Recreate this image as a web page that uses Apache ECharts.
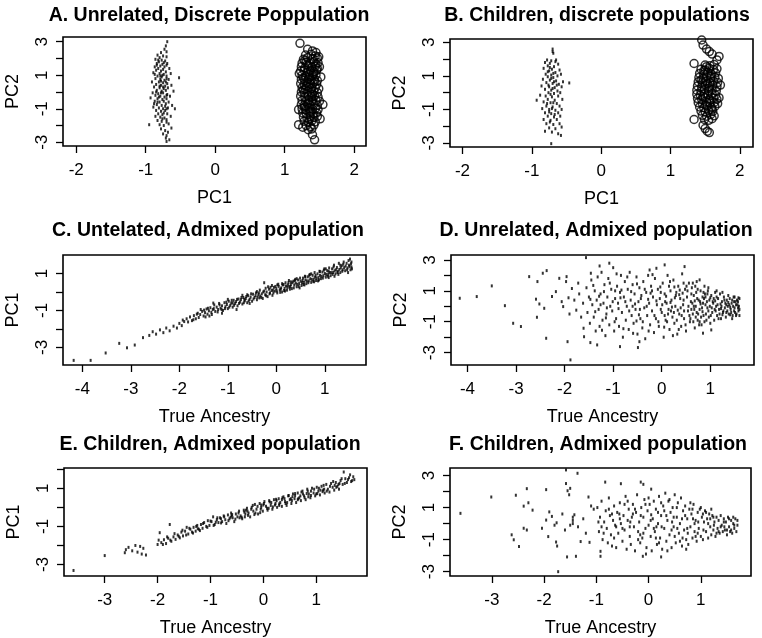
<!DOCTYPE html>
<html>
<head>
<meta charset="utf-8">
<script src="https://cdn.jsdelivr.net/npm/echarts@6/dist/echarts.min.js"></script>
<style>
  html, body { margin: 0; padding: 0; background: #fff; }
  #chart { width: 762px; height: 638px; }
</style>
</head>
<body>
<div id="chart"></div>
<script>
// ---- Panel titles and axis names ----
const panelTitles = [
  'A. Unrelated, Discrete Poppulation',
  'B. Children, discrete populations',
  'C. Untelated, Admixed population',
  'D. Unrelated, Admixed population',
  'E. Children, Admixed population',
  'F. Children, Admixed population'
];
const xNames = ['PC1', 'PC1', 'True Ancestry', 'True Ancestry', 'True Ancestry', 'True Ancestry'];
const yNames = ['PC2', 'PC2', 'PC1', 'PC2', 'PC1', 'PC2'];

// ---- Tick positions and labelled ticks ----
const xTicks = [
  [-2, -1, 0, 1, 2],
  [-2, -1, 0, 1, 2],
  [-4, -3, -2, -1, 0, 1],
  [-4, -3, -2, -1, 0, 1],
  [-3, -2, -1, 0, 1],
  [-3, -2, -1, 0, 1]
];
const yTicks = [
  [-3, -2, -1, 0, 1, 2, 3],
  [-3, -2, -1, 0, 1, 2, 3],
  [-3, -2, -1, 0, 1],
  [-3, -2, -1, 0, 1, 2, 3],
  [-3, -2, -1, 0, 1, 2],
  [-3, -2, -1, 0, 1, 2, 3]
];
const yTickLabels = [
  [-3, -1, 1, 3],
  [-3, -1, 1, 3],
  [-3, -1, 1],
  [-3, -1, 1, 3],
  [-3, -1, 1],
  [-3, -1, 1, 3]
];

// ---- A: unrelated individuals, two discrete populations (PC1 vs PC2) ----
const unrelatedPop1 = [
  [-0.69,3.0],[-0.71,2.75],[-0.73,2.55],[-0.78,2.35],[-0.83,2.2],[-0.75,2.15],[-0.80,2.05],[-0.70,2.1],[-0.86,1.95],[-0.77,1.9],
  [-0.72,1.85],[-0.81,1.8],[-0.84,1.7],[-0.76,1.65],[-0.69,1.7],[-0.79,1.55],[-0.87,1.5],[-0.73,1.5],[-0.82,1.4],[-0.75,1.35],
  [-0.66,1.4],[-0.85,1.3],[-0.78,1.25],[-0.71,1.2],[-0.89,1.15],[-0.80,1.1],[-0.74,1.05],[-0.64,1.1],[-0.83,0.95],[-0.77,0.9],
  [-0.70,0.95],[-0.52,0.85],[-0.86,0.8],[-0.79,0.75],[-0.73,0.7],[-0.67,0.75],[-0.91,0.6],[-0.81,0.6],[-0.75,0.55],[-0.69,0.5],
  [-0.85,0.45],[-0.78,0.4],[-0.72,0.35],[-0.63,0.4],[-0.88,0.3],[-0.80,0.25],[-0.74,0.2],[-0.68,0.25],[-0.84,0.1],[-0.77,0.05],
  [-0.71,0.1],[-0.60,0.05],[-0.90,-0.05],[-0.82,-0.1],[-0.75,-0.05],[-0.69,-0.15],[-0.86,-0.2],[-0.79,-0.25],[-0.73,-0.3],[-0.65,-0.25],
  [-0.93,-0.35],[-0.83,-0.4],[-0.76,-0.45],[-0.70,-0.4],[-0.87,-0.55],[-0.80,-0.6],[-0.74,-0.55],[-0.67,-0.6],[-0.84,-0.75],[-0.77,-0.8],
  [-0.71,-0.7],[-0.62,-0.8],[-0.89,-0.9],[-0.81,-0.95],[-0.75,-1.0],[-0.68,-0.95],[-0.85,-1.1],[-0.78,-1.15],[-0.72,-1.1],[-0.58,-1.0],
  [-0.82,-1.3],[-0.76,-1.35],[-0.69,-1.3],[-0.86,-1.45],[-0.79,-1.5],[-0.73,-1.55],[-0.64,-1.45],[-0.83,-1.7],[-0.77,-1.75],[-0.70,-1.65],
  [-0.95,-1.95],[-0.80,-1.95],[-0.74,-2.0],[-0.67,-1.9],[-0.78,-2.2],[-0.72,-2.3],[-0.63,-2.15],[-0.75,-2.5],[-0.68,-2.4],[-0.71,-2.75],
  [-0.66,-2.85],[-0.70,-2.95],[-0.70,2.4],[-0.70,1.6],[-0.70,0.8],[-0.70,-0.2],[-0.70,-1.0],[-0.70,-1.8],[-0.70,-2.6],[-0.84,1.6],
  [-0.76,1.0],[-0.80,0.35],[-0.72,-0.85],[-0.88,-0.7],[-0.74,-1.25],[-0.85,0.0],[-0.78,0.65],[-0.82,1.9],[-0.74,1.75],[-0.87,1.05],
  [-0.81,-0.3],[-0.76,-1.6],[-0.79,0.95],[-0.71,0.6],[-0.83,-0.6],[-0.78,-0.05],[-0.75,0.3]
];
const unrelatedPop2 = [
  [1.22,2.9],[1.33,2.55],[1.45,2.35],[1.40,2.45],[1.21,1.1],[1.20,-1.05],[1.20,-1.95],[1.26,-2.1],[1.40,-2.55],[1.43,-2.85],
  [1.55,-0.75],[1.50,1.5],[1.51,-1.6],[1.52,0.9],[1.49,2.1],
  [1.30,2.2],[1.38,2.25],[1.44,2.15],[1.27,1.95],[1.33,2.05],[1.41,1.98],[1.47,2.02],
  [1.25,1.72],[1.31,1.78],[1.36,1.7],[1.42,1.8],[1.48,1.74],[1.24,1.5],[1.29,1.45],[1.34,1.55],[1.39,1.48],[1.44,1.52],[1.47,1.4],
  [1.23,1.25],[1.28,1.3],[1.33,1.2],[1.37,1.28],[1.42,1.22],[1.46,1.3],[1.25,1.0],[1.30,0.95],[1.35,1.05],[1.40,0.98],[1.45,1.02],[1.27,0.82],
  [1.24,0.75],[1.29,0.7],[1.34,0.78],[1.38,0.72],[1.43,0.76],[1.47,0.68],[1.23,0.5],[1.28,0.45],[1.32,0.55],[1.37,0.48],[1.41,0.52],[1.46,0.46],
  [1.25,0.25],[1.30,0.2],[1.35,0.28],[1.39,0.22],[1.44,0.26],[1.49,0.2],[1.24,0.0],[1.28,-0.05],[1.33,0.03],[1.38,-0.02],[1.42,0.04],[1.47,-0.04],
  [1.23,-0.25],[1.29,-0.3],[1.34,-0.22],[1.39,-0.28],[1.43,-0.24],[1.48,-0.3],[1.25,-0.5],[1.30,-0.55],[1.35,-0.47],[1.40,-0.52],[1.45,-0.49],[1.50,-0.55],
  [1.24,-0.75],[1.28,-0.8],[1.33,-0.72],[1.37,-0.78],[1.42,-0.74],[1.47,-0.8],[1.25,-1.0],[1.30,-1.05],[1.35,-0.97],[1.40,-1.02],[1.44,-0.98],[1.48,-1.05],
  [1.26,-1.25],[1.31,-1.3],[1.36,-1.22],[1.41,-1.28],[1.46,-1.24],[1.27,-1.5],[1.32,-1.55],[1.37,-1.48],[1.42,-1.52],[1.47,-1.45],
  [1.28,-1.75],[1.34,-1.8],[1.39,-1.72],[1.44,-1.78],[1.31,-2.0],[1.37,-2.05],[1.42,-1.97],[1.34,-2.25],[1.39,-2.2],
  [1.32,1.62],[1.36,0.9],[1.31,0.35],[1.40,-0.15],[1.34,-0.62],[1.38,-1.15],[1.29,-0.9],[1.43,0.62],[1.27,0.12],[1.45,1.65],
  [1.35,-1.65],[1.41,1.12],[1.29,1.88]
];

// ---- B: children, two discrete populations (PC1 vs PC2) ----
const childrenPop1 = [
  [-0.70,2.6],[-0.70,2.45],[-0.69,2.35],[-0.78,1.95],[-0.72,1.9],[-0.65,1.95],[-0.81,1.8],[-0.74,1.75],[-0.62,1.7],[-0.77,1.6],
  [-0.68,1.55],[-0.83,1.45],[-0.71,1.4],[-0.60,1.35],[-0.75,1.3],[-0.66,1.2],[-0.80,1.1],[-0.72,1.05],[-0.63,1.0],[-0.58,1.1],
  [-0.77,0.95],[-0.69,0.9],[-0.84,0.8],[-0.74,0.75],[-0.65,0.7],[-0.55,0.65],[-0.46,0.58],[-0.79,0.6],[-0.70,0.55],[-0.61,0.5],
  [-0.86,0.4],[-0.75,0.35],[-0.67,0.3],[-0.57,0.35],[-0.81,0.2],[-0.72,0.15],[-0.63,0.1],[-0.76,0.0],[-0.68,-0.05],[-0.59,0.0],
  [-0.88,-0.15],[-0.80,-0.2],[-0.71,-0.25],[-0.62,-0.2],[-0.93,-0.45],[-0.77,-0.4],[-0.67,-0.45],[-0.56,-0.4],[-0.83,-0.55],[-0.73,-0.6],
  [-0.64,-0.65],[-0.79,-0.8],[-0.70,-0.85],[-0.60,-0.8],[-0.85,-0.95],[-0.75,-1.0],[-0.66,-1.05],[-0.57,-1.0],[-0.81,-1.2],[-0.72,-1.25],
  [-0.62,-1.2],[-0.77,-1.4],[-0.68,-1.45],[-0.59,-1.4],[-0.83,-1.6],[-0.73,-1.65],[-0.64,-1.6],[-0.79,-1.85],[-0.69,-1.9],[-0.60,-1.85],
  [-0.75,-2.1],[-0.66,-2.15],[-0.57,-2.05],[-0.81,-2.3],[-0.71,-2.35],[-0.62,-2.45],[-0.58,-2.55],[-0.72,-3.04],
  [-0.74,1.5],[-0.69,1.15],[-0.76,0.45],[-0.70,0.25],[-0.73,-0.1],[-0.69,-0.6],[-0.75,-1.15],[-0.67,-1.3],[-0.72,0.85],[-0.66,1.85],
  [-0.78,-0.65],[-0.71,-0.95],[-0.77,1.25],[-0.64,0.45],[-0.74,-1.75],[-0.68,0.65]
];
const childrenPop2 = [
  [1.45,3.14],[1.47,2.84],[1.52,2.6],[1.56,2.45],[1.70,2.16],[1.60,2.3],[1.34,1.74],[1.34,-1.6],[1.47,-1.94],[1.50,-2.14],
  [1.53,-2.3],[1.56,-2.38],[1.72,0.45],[1.70,-0.3],[1.67,1.95],
  [1.50,1.65],[1.57,1.6],[1.63,1.68],[1.44,1.4],[1.50,1.35],[1.56,1.45],[1.62,1.38],[1.67,1.42],
  [1.42,1.15],[1.48,1.1],[1.54,1.2],[1.59,1.12],[1.65,1.18],[1.41,0.9],[1.47,0.85],[1.52,0.95],[1.58,0.88],[1.64,0.92],[1.69,0.85],
  [1.40,0.65],[1.46,0.6],[1.51,0.7],[1.57,0.62],[1.62,0.68],[1.68,0.6],[1.39,0.4],[1.45,0.35],[1.50,0.45],[1.56,0.38],[1.61,0.42],[1.67,0.35],
  [1.38,0.15],[1.44,0.1],[1.49,0.2],[1.55,0.12],[1.60,0.18],[1.66,0.1],[1.38,-0.1],[1.43,-0.15],[1.49,-0.05],[1.54,-0.12],[1.60,-0.08],[1.65,-0.15],
  [1.39,-0.35],[1.45,-0.4],[1.50,-0.3],[1.56,-0.38],[1.62,-0.33],[1.67,-0.4],[1.40,-0.6],[1.46,-0.65],[1.52,-0.55],[1.57,-0.62],[1.63,-0.58],[1.68,-0.65],
  [1.42,-0.85],[1.48,-0.9],[1.53,-0.8],[1.59,-0.88],[1.64,-0.82],[1.44,-1.1],[1.50,-1.15],[1.55,-1.05],[1.61,-1.12],
  [1.46,-1.35],[1.52,-1.4],[1.58,-1.3],[1.63,-1.38],[1.49,-1.6],[1.55,-1.65],[1.60,-1.55],
  [1.53,0.55],[1.47,-0.25],[1.58,1.0],[1.51,-0.75],[1.55,0.25],[1.48,1.3],[1.60,-1.0],[1.44,0.75],[1.57,-0.45],[1.52,1.55]
];

// ---- C: unrelated, admixed population (true ancestry vs PC1) ----
const unrelatedAdmixPC1 = [
  [-4.18,-3.70],[-3.83,-3.70],[-3.52,-3.30],[-3.24,-2.78],[-3.08,-3.02],[-2.92,-2.87],[-2.75,-2.47],[-2.62,-2.35],[-2.55,-2.15],[-2.48,-2.28],
  [-2.40,-2.05],[-2.33,-2.2],[-2.27,-1.95],[-2.2,-2.1],[-2.12,-1.85],[-2.05,-1.95],[-2.0,-1.7],[-1.95,-1.82],[-1.9,-1.6],
  [-1.85,-1.45],[-1.82,-1.62],[-1.78,-1.35],[-1.74,-1.55],[-1.7,-1.28],[-1.66,-1.45],[-1.62,-1.15],[-1.6,-1.38],[-1.57,-1.22],[-1.53,-1.05],
  [-1.5,-1.3],[-1.47,-1.12],[-1.44,-0.92],[-1.42,-1.2],[-1.39,-1.02],[-1.36,-0.85],[-1.34,-1.1],[-1.31,-0.95],[-1.28,-0.7],[-1.26,-1.05],
  [-1.23,-0.82],[-1.2,-0.95],[-1.18,-0.62],[-1.15,-0.88],[-1.12,-0.75],[-1.1,-1.0],[-1.07,-0.58],[-1.05,-0.8],[-1.02,-0.68],[-1.0,-0.9],
  [-0.98,-0.5],[-0.95,-0.72],[-0.93,-0.6],[-0.9,-0.82],[-0.88,-0.45],[-0.85,-0.62],[-0.83,-0.52],[-0.8,-0.75],[-0.78,-0.38],[-0.75,-0.55],
  [-0.73,-0.42],[-0.7,-0.65],[-0.68,-0.3],[-0.65,-0.48],[-0.63,-0.36],[-0.6,-0.58],[-0.58,-0.2],[-0.55,-0.4],[-0.53,-0.28],[-0.5,-0.5],
  [-0.48,-0.12],[-0.45,-0.3],[-0.43,-0.2],[-0.4,-0.42],[-0.25,0.5],[-0.36,-0.05],[-0.33,-0.22],[-0.3,-0.1],[-0.28,-0.35],[-0.25,0.05],
  [-0.23,-0.15],[-0.2,0.0],[-0.18,-0.25],[-0.15,0.15],[-0.13,-0.05],[-0.1,0.08],[-0.08,-0.18],[-0.05,0.25],[-0.03,0.05],[0.0,0.18],
  [0.02,-0.05],[0.05,0.3],[0.07,0.12],[0.1,0.22],[0.12,0.0],[0.15,0.4],[0.17,0.2],[0.2,0.32],[0.22,0.1],[0.25,0.5],
  [0.27,0.28],[0.3,0.4],[0.32,0.18],[0.35,0.58],[0.37,0.38],[0.4,0.48],[0.42,0.28],[0.45,0.65],[0.47,0.45],[0.5,0.58],
  [0.52,0.35],[0.55,0.75],[0.57,0.52],[0.6,0.65],[0.62,0.45],[0.65,0.82],[0.67,0.6],[0.7,0.72],[0.72,0.52],[0.75,0.9],
  [0.77,0.7],[0.8,0.8],[0.82,0.62],[0.85,0.98],[0.87,0.78],[0.9,0.9],[0.92,0.72],[0.95,1.08],[0.97,0.88],[1.0,1.0],
  [1.02,0.8],[1.05,1.15],[1.07,0.95],[1.1,1.05],[1.12,0.88],[1.15,1.25],[1.17,1.05],[1.2,1.15],[1.22,0.98],[1.25,1.32],
  [1.27,1.12],[1.3,1.22],[1.32,1.05],[1.35,1.42],[1.37,1.2],[1.4,1.32],[1.42,1.15],[1.45,1.55],[1.47,1.3],[1.5,1.45],
  [1.52,1.78],[1.53,1.2],[1.55,1.62],[1.55,1.35],
  [-0.9,-0.6],[-0.6,-0.15],[-0.35,-0.32],[-0.12,0.25],[0.08,-0.02],[0.18,0.05],[0.28,0.15],[0.38,0.62],[0.48,0.22],[0.58,0.38],
  [0.68,0.9],[0.78,0.55],[0.88,0.65],[0.98,1.18],[1.08,0.78],[1.18,1.35],[1.28,0.95],[1.38,1.5],[1.48,1.05],[0.3,0.55],
  [0.6,0.82],[0.9,1.1],[1.2,0.85],[-0.4,0.02],[-0.7,-0.18],[-1.0,-0.4],[-1.3,-0.6],[-1.56,-0.95],[0.12,0.45],[0.42,0.72],
  [0.72,0.98],[1.02,1.25],[1.32,1.45],[0.02,0.38],[-0.22,0.2],[-0.55,-0.62],[-0.82,-0.95],[-1.12,-1.15],[-1.38,-1.3],
  [-1.93,-1.52],[-1.71,-1.5],[-1.64,-1.2],[-1.49,-0.98],[-1.46,-1.35],[-1.41,-0.88],[-1.33,-1.22],[-1.29,-0.9],[-1.21,-1.08],[-1.17,-0.7],
  [-1.13,-0.95],[-1.06,-0.9],[-1.03,-0.55],[-0.97,-0.82],[-0.92,-0.45],[-0.87,-0.72],[-0.81,-0.4],[-0.77,-0.62],[-0.72,-0.3],[-0.67,-0.58],
  [-0.62,-0.25],[-0.57,-0.48],[-0.52,-0.1],[-0.47,-0.38],[-0.42,-0.05],[-0.39,-0.28],[-0.34,0.1],[-0.31,-0.3],[-0.27,0.0],[-0.21,-0.2],
  [-0.17,0.28],[-0.14,-0.1],[-0.09,0.35],[-0.06,-0.05],[-0.02,0.3],[0.01,0.05],[0.04,0.42],[0.09,0.15],[0.13,0.38],[0.16,0.08],
  [0.19,0.5],[0.23,0.25],[0.26,0.62],[0.29,0.3],[0.33,0.5],[0.36,0.22],[0.39,0.68],[0.43,0.42],[0.46,0.3],[0.49,0.75],
  [0.53,0.5],[0.56,0.4],[0.59,0.85],[0.63,0.6],[0.66,0.5],[0.69,0.95],[0.73,0.68],[0.76,0.58],[0.79,1.05],[0.83,0.75],
  [0.86,0.6],[0.89,1.12],[0.93,0.85],[0.96,0.75],[0.99,1.25],[1.03,0.95],[1.06,0.85],[1.09,1.3],[1.13,1.05],[1.16,0.95],
  [1.19,1.45],[1.23,1.2],[1.26,1.05],[1.29,1.55],[1.33,1.3],[1.36,1.12],[1.39,1.62],[1.43,1.4],[1.46,1.2],[1.49,1.7],
  [1.51,1.38],[1.54,1.52],[1.56,1.25],[1.08,1.12],[0.81,0.9],[0.54,0.62],[0.24,0.38],[-0.07,0.1],[-0.37,-0.15],[-0.66,-0.4]
];

// ---- D: unrelated, admixed population (true ancestry vs PC2) ----
const unrelatedAdmixPC2 = [
  [-4.16,0.52],[-3.81,0.63],[-3.50,1.32],[-3.23,0.04],[-3.06,-1.1],[-2.90,-1.31],[-2.73,1.92],[-2.56,1.6],[-2.59,0.46],[-2.57,-0.71],
  [-2.45,2.14],[-2.37,2.31],[-2.52,0.15],[-2.42,-0.13],[-2.38,-2.07],[-2.26,0.63],[-2.18,0.95],[-2.11,1.81],[-2.03,-0.02],[-1.96,1.92],
  [-1.94,-2.29],[-1.88,-3.47],[-1.97,1.6],[-2.06,0.3],[-1.92,0.55],[-1.9,-0.5],[-1.85,1.15],[-1.8,0.4],[-1.76,-0.25],[-1.72,1.5],
  [-1.7,0.8],[-1.66,-0.7],[-1.62,0.2],[-1.56,3.15],[-1.61,-1.42],[-1.6,-1.97],[-1.47,-2.35],[-1.33,-2.5],[-1.46,2.14],[-1.28,2.61],
  [-1.08,2.79],[-0.86,-2.61],[-0.49,-2.67],[-0.46,-2.29],[-0.25,2.35],[-0.11,2.46],[0.06,2.68],[0.47,2.57],[0.78,1.71],[0.85,-1.74],
  [1.02,-1.53],
  [-1.55,1.2],[-1.53,-0.4],[-1.5,0.6],[-1.48,-1.1],[-1.45,1.7],[-1.43,0.1],[-1.4,-0.7],[-1.38,1.0],[-1.36,-1.6],[-1.34,0.4],
  [-1.32,1.9],[-1.3,-0.2],[-1.28,-1.3],[-1.26,0.8],[-1.24,2.2],[-1.22,-0.9],[-1.2,0.2],[-1.18,1.4],[-1.16,-1.9],[-1.14,-0.5],
  [-1.12,0.6],[-1.1,1.8],[-1.08,-1.2],[-1.06,0.0],[-1.04,1.1],[-1.02,-0.3],[-1.0,2.5],[-0.98,-1.6],[-0.96,0.5],[-0.94,-0.8],
  [-0.92,1.3],[-0.9,0.2],[-0.88,-1.3],[-0.86,0.9],[-0.84,2.0],[-0.82,-0.4],[-0.8,-2.0],[-0.78,0.6],[-0.76,1.6],[-0.74,-0.9],
  [-0.72,0.0],[-0.7,1.1],[-0.68,-1.5],[-0.66,2.2],[-0.64,0.4],[-0.62,-0.6],[-0.6,1.4],[-0.58,-1.1],[-0.56,0.8],[-0.54,-0.2],
  [-0.52,1.9],[-0.5,-1.8],[-0.48,0.3],[-0.46,1.2],[-0.44,-0.8],[-0.42,0.7],[-0.4,-1.4],[-0.38,1.6],[-0.36,-0.1],[-0.34,-2.1],
  [-0.32,0.9],[-0.3,-0.6],[-0.28,2.0],[-0.26,0.2],[-0.24,-1.2],[-0.22,1.3],[-0.2,-0.3],[-0.18,0.6],[-0.16,-1.7],[-0.14,1.8],
  [-0.12,-0.8],[-0.1,0.1],[-0.08,1.1],[-0.06,-1.3],[-0.04,0.5],
  [0.0,-0.4],[0.02,1.5],[0.04,-2.0],[0.06,0.8],[0.08,-0.9],[0.1,0.2],[0.12,2.0],[0.14,-0.2],[0.16,-1.5],[0.18,1.0],
  [0.2,0.4],[0.22,-0.7],[0.24,1.7],[0.26,-1.1],[0.28,0.0],[0.3,0.9],[0.32,-1.8],[0.34,1.3],[0.36,-0.5],[0.38,0.5],
  [0.4,-1.3],[0.42,2.1],[0.44,0.1],[0.46,-0.8],[0.48,1.1],[0.5,-1.6],[0.52,0.6],[0.54,-0.3],[0.56,1.5],[0.58,-1.0],
  [0.6,0.3],[-0.02,0.9],[0.11,-1.0],[0.27,0.55],[0.39,-0.1],[0.53,1.0],[0.07,0.3],[0.19,-0.3],[0.31,-0.9],[0.43,0.85],
  [0.57,-0.6],[0.15,1.3],[0.35,-1.5],[0.45,1.5],[0.25,-0.4],
  [0.62,1.2],[0.64,-0.5],[0.66,0.7],[0.68,-1.4],[0.7,0.0],[0.72,1.6],[0.74,-0.9],[0.76,0.4],[0.78,-0.2],[0.8,1.0],
  [0.82,-1.2],[0.84,0.6],[0.86,-0.6],[0.88,1.3],[0.9,0.1],[0.92,-0.9],[0.94,0.8],[0.96,-0.3],[0.98,0.4],[1.0,-1.1],
  [0.63,0.2],[0.67,-0.2],[0.71,0.9],[0.75,-0.5],[0.79,0.3],[0.83,-0.1],[0.87,0.5],[0.91,-0.5],[0.95,1.0],[0.99,0.0],
  [0.65,-1.0],[0.73,0.5],[0.81,-0.7],[0.89,0.8],[0.97,-0.7],[0.69,1.3],[0.77,-1.2],[0.85,0.2],[0.93,0.3],[0.61,-0.2],
  [1.02,0.7],[1.04,-0.4],[1.06,0.2],[1.08,-0.9],[1.1,0.9],[1.12,0.0],[1.14,-0.6],[1.16,0.5],[1.18,-0.2],[1.2,0.8],
  [1.22,-0.8],[1.24,0.3],[1.26,-0.4],[1.28,0.6],[1.3,-0.1],[1.32,-0.7],[1.34,0.4],[1.36,0.0],[1.38,-0.5],[1.4,0.5],
  [1.42,-0.2],[1.44,0.2],[1.46,-0.6],[1.48,0.6],[1.5,-0.1],[1.52,0.3],[1.54,-0.5],[1.56,0.1],[1.58,-0.3],[1.6,0.5],
  [1.6,-0.6],[1.03,-0.1],[1.07,0.5],[1.11,-0.3],[1.15,0.1],[1.19,-0.5],[1.23,0.0],[1.27,-0.3],[1.31,0.2],[1.35,-0.3],
  [1.39,0.1],[1.43,-0.4],[1.47,0.0],[1.51,-0.4],[1.55,0.4],[1.59,0.0],[1.13,1.0],[1.25,0.9],[1.37,0.7],[1.45,-0.8],
  [1.57,-0.1],[1.53,0.1],[1.49,0.3],[1.41,-0.05],[1.33,0.1],
  [-1.47,0.45],[-1.41,1.35],[-1.37,-0.35],[-1.29,0.65],[-1.23,-1.55],[-1.19,0.95],[-1.13,-0.1],[-1.07,1.5],[-1.01,0.3],[-0.97,-1.0],
  [-0.93,2.1],[-0.89,-0.15],[-0.83,1.05],[-0.79,-1.45],[-0.75,0.3],[-0.71,1.9],[-0.67,-0.3],[-0.63,0.95],[-0.59,-1.75],[-0.55,0.15],
  [-0.51,1.45],[-0.47,-0.55],[-0.43,0.5],[-0.39,-1.0],[-0.35,1.1],[-0.31,0.0],[-0.27,-1.6],[-0.23,0.85],[-0.19,2.05],[-0.15,-0.6],
  [-0.11,0.35],[-0.07,-1.0],[-0.03,1.25],[0.01,0.1],[0.05,-1.35],[0.09,0.65],[0.13,-0.5],[0.17,1.6],[0.21,-0.05],[0.23,-1.9],
  [0.29,0.7],[0.33,-0.25],[0.37,1.05],[0.41,-0.6],[0.45,0.4],[0.49,-1.2],[0.51,1.3],[0.55,0.0],[0.59,-0.8],[0.61,0.8],
  [0.64,1.5],[0.68,0.35],[0.7,-0.7],[0.74,1.1],[0.78,-1.0],[0.8,0.15],[0.84,-0.35],[0.88,-1.0],[0.9,0.6],[0.94,-0.1],
  [0.96,1.2],[1.0,0.55],[1.01,-0.6],[1.05,0.3],[1.09,-0.2],[1.13,0.6],[1.17,-0.8],[1.21,0.15],[1.25,-0.55],[1.29,0.4],
  [1.33,-0.4],[1.37,0.25],[1.41,-0.55],[1.45,0.4],[1.49,-0.3],[1.53,-0.6],[1.57,0.3],[1.6,-0.2],[1.58,0.55],[1.5,0.6],
  [0.18,0.25],[0.36,0.75],[-0.45,-0.2],[-0.85,0.55],[-1.15,-0.75],[0.72,-0.4],[0.46,-0.3],[0.06,-0.6],[-0.2,1.0],[-0.6,0.0],
  [1.1,0.35],[1.22,-0.15],[0.86,0.9],[0.66,0.0],[0.26,1.25],[-0.02,-0.2],[-0.28,0.45],[-0.52,-0.95],[-0.96,1.0],[-1.26,0.1]
];

// ---- E: children, admixed population (true ancestry vs PC1) ----
const childrenAdmixPC1 = [
  [-3.59,-3.31],[-3.0,-2.53],[-2.62,-2.38],[-2.6,-2.22],[-2.55,-2.1],[-2.48,-2.28],[-2.42,-2.0],[-2.38,-2.35],[-2.33,-2.05],[-2.3,-2.45],
  [-2.27,-2.15],[-2.22,-2.5],
  [-2.0,-1.95],[-1.96,-1.33],[-1.93,-1.85],[-1.88,-1.7],[-1.84,-1.9],[-1.8,-1.62],[-1.77,-0.9],[-1.74,-1.78],[-1.7,-1.55],[-1.66,-1.68],
  [-1.62,-1.45],[-1.58,-1.6],[-1.55,-1.3],[-1.52,-1.5],[-1.48,-1.25],[-1.45,-1.05],[-1.42,-1.4],[-1.38,-1.15],[-1.35,-1.3],[-1.32,-1.05],
  [-1.28,-1.25],[-1.25,-0.95],[-1.22,-1.15],[-1.18,-0.9],[-1.15,-1.1],[-1.12,-0.8],[-1.08,-1.0],[-1.05,-0.7],[-1.02,-0.95],[-0.98,-0.75],
  [-0.95,-0.5],[-0.92,-0.9],[-0.88,-0.65],[-0.85,-0.8],[-0.82,-0.55],[-0.78,-0.75],[-0.75,-0.45],[-0.72,-0.65],[-0.7,-0.85],[-0.67,-0.4],
  [-0.64,-0.6],[-0.61,-0.3],[-0.58,-0.55],[-0.55,-0.75],[-0.52,-0.35],[-0.49,-0.5],[-0.46,-0.2],[-0.43,-0.45],[-0.4,-0.6],[-0.37,-0.15],
  [-0.34,-0.35],[-0.31,-0.05],[-0.28,-0.3],[-0.25,-0.5],[-0.22,0.0],[-0.19,-0.2],[-0.16,0.15],[-0.13,-0.1],[-0.1,-0.35],[-0.07,0.2],
  [-0.04,0.0],[-0.01,-0.2],[0.02,0.3],[0.05,0.05],[0.08,-0.15],[0.11,0.35],[0.14,0.1],[0.17,-0.1],[0.2,0.4],[0.23,0.2],
  [0.26,0.0],[0.29,0.45],[0.32,0.25],[0.35,0.05],[0.38,0.55],[0.41,0.3],[0.44,0.1],[0.47,0.6],[0.5,0.4],[0.53,0.2],
  [0.56,0.7],[0.59,0.45],[0.62,0.25],[0.65,0.75],[0.68,0.5],[0.71,0.35],[0.74,0.85],[0.77,0.6],[0.8,0.4],[0.83,0.95],
  [0.86,0.7],[0.89,0.5],[0.92,1.0],[0.95,0.75],[0.98,0.6],[1.01,1.05],[1.04,0.85],[1.07,0.65],[1.1,1.1],[1.13,0.9],
  [1.16,0.75],[1.19,1.2],[1.22,0.95],[1.25,0.8],[1.28,1.25],[1.31,1.05],[1.34,0.9],[1.37,1.3],[1.4,1.1],[1.43,0.95],
  [1.46,1.4],[1.5,1.2],[1.52,1.85],[1.55,1.5],[1.58,1.3],[1.62,1.55],[1.66,1.35],[1.7,1.6],[1.72,1.45],
  [-0.6,-0.45],[-0.3,-0.2],[0.0,0.12],[0.1,-0.05],[0.3,0.1],[0.4,0.45],[0.6,0.6],[0.7,0.6],[0.9,0.85],[1.0,0.7],
  [-0.8,-0.6],[-0.45,-0.55],[-0.15,-0.3],[0.15,0.25],[0.45,0.25],[0.75,0.7],[1.05,1.0],[1.35,1.15],[-0.2,0.1],[0.25,0.35],
  [0.55,0.55],[0.85,0.55],[1.15,0.95],[-0.05,-0.1],[0.35,0.4],[0.65,0.4],[-0.35,-0.5],
  [-1.98,-1.72],[-1.9,-1.95],[-1.82,-1.55],[-1.76,-1.72],[-1.68,-1.38],[-1.6,-1.52],[-1.53,-1.2],[-1.46,-1.45],[-1.4,-1.1],[-1.33,-1.35],
  [-1.27,-1.0],[-1.2,-1.22],[-1.14,-0.85],[-1.06,-1.05],[-1.0,-0.72],[-0.94,-0.95],[-0.87,-0.55],[-0.8,-0.82],[-0.74,-0.5],[-0.66,-0.7],
  [-0.59,-0.38],[-0.53,-0.62],[-0.47,-0.3],[-0.41,-0.52],[-0.36,-0.25],[-0.29,-0.42],[-0.23,-0.1],[-0.17,-0.38],[-0.11,0.05],[-0.06,-0.28],
  [0.01,0.2],[0.07,-0.05],[0.12,0.28],[0.18,0.02],[0.24,0.42],[0.3,0.18],[0.36,0.5],[0.42,0.2],[0.48,0.62],[0.54,0.35],
  [0.6,0.72],[0.66,0.45],[0.72,0.8],[0.78,0.5],[0.84,0.85],[0.9,0.62],[0.96,0.95],[1.02,0.72],[1.08,0.9],[1.14,1.15],
  [1.2,0.85],[1.26,1.1],[1.32,1.35],[1.38,1.05],[1.44,1.25],[1.48,1.5],[1.54,1.25],[1.6,1.45],[1.64,1.7],[1.68,1.4],
  [-0.9,-0.78],[-0.62,-0.52],[-0.33,-0.15],[-0.04,0.12],[0.22,0.12],[0.52,0.45],[0.82,0.72],[1.12,0.82],[1.42,1.2],[-1.24,-1.12]
];

// ---- F: children, admixed population (true ancestry vs PC2) ----
const childrenAdmixPC2 = [
  [-3.60,0.64],[-3.01,1.66],[-2.54,1.77],[-2.33,2.18],[-2.39,1.09],[-2.3,1.3],[-2.22,0.84],[-2.62,-0.7],[-2.58,-1.01],[-2.48,-1.43],
  [-2.39,-0.29],[-2.33,-0.4],[-2.04,-0.29],[-1.96,2.12],[-1.96,0.22],[-1.92,-0.81],[-1.9,0.73],[-1.85,0.45],[-1.8,-0.1],[-1.76,0.05],
  [-1.75,-1.4],[-1.77,-1.15],[-1.73,-3.0],[-1.58,3.35],[-1.58,2.5],[-1.55,2.05],[-1.5,2.2],[-1.52,1.8],[-1.56,-2.08],[-1.39,-2.04],
  [-1.36,3.14],[-1.3,-1.12],[-1.15,1.66],[-1.13,-1.17],[-1.45,0.0],[-1.45,0.2],[-1.45,0.4],[-1.42,0.55],[-1.5,-0.1],[-1.6,-0.4],
  [-1.65,0.6],[-1.35,-0.2],[-1.25,0.3],[-1.2,-0.6],[-1.1,1.1],[-1.05,0.9],[-0.92,-2.04],[-0.92,-1.73],[-0.83,2.59],[-0.53,2.49],
  [-0.15,2.59],[-0.1,2.45],[0.05,2.15],[-0.11,-2.04],[0.24,-2.08],
  [-0.98,1.0],[-0.95,-0.5],[-0.93,0.4],[-0.9,1.4],[-0.88,-1.0],[-0.85,0.1],[-0.82,0.8],[-0.8,-0.3],[-0.78,-1.2],[-0.76,1.6],
  [-0.74,0.5],[-0.72,-0.7],[-0.7,-1.4],[-0.68,0.2],[-0.66,1.1],[-0.64,-0.1],[-0.62,-1.5],[-0.6,0.7],[-0.58,-0.6],[-0.55,1.3],
  [-0.53,0.0],[-0.5,-1.1],[-0.48,0.5],[-0.46,-0.4],[-0.44,1.7],[-0.42,-1.6],[-0.4,0.2],[-0.38,0.9],[-0.36,-0.8],[-0.34,-1.3],
  [-0.32,0.4],[-0.3,1.2],[-0.28,-0.2],[-0.26,-1.7],[-0.24,0.7],[-0.22,1.8],[-0.2,-0.5],[-0.18,0.1],[-0.16,-1.2],[-0.14,1.0],
  [-0.12,-0.9],[-0.1,0.4],[-0.08,1.5],[-0.06,-0.3],[-0.04,-1.5],[-0.02,0.8],[0.0,-0.1],[0.02,1.2],[0.04,-0.8],[0.06,-1.7],
  [0.08,0.3],[0.1,1.4],[0.12,-0.5],[0.14,0.9],[0.16,-1.3],[0.18,0.0],[0.2,1.7],[0.22,-0.9],[0.24,0.5],[0.26,-1.6],
  [0.28,1.1],[0.3,-0.3],[0.32,1.9],[0.34,-1.1],[0.36,0.2],[0.38,1.4],[0.4,-0.7],[0.42,0.7],[0.44,-1.5],[0.46,1.0],
  [0.48,-0.2],[0.5,1.8],[0.52,-1.2],[0.54,0.4],[0.56,1.3],[0.58,-0.6],[0.6,0.0],[0.62,1.6],[0.64,-1.4],[0.66,0.8],
  [0.68,-0.4],[0.7,1.1],[0.72,-1.0],[0.74,0.3],[0.76,-1.3],[0.78,0.9],[0.8,-0.2],[0.82,0.6],[0.84,-0.9],[0.86,1.2],
  [0.88,-0.5],[0.9,0.2],[0.92,-1.1],[0.94,0.7],[0.96,-0.3],[0.98,0.9],[1.0,-0.8],[1.02,0.4],[1.04,-1.0],[1.06,0.1],
  [1.08,0.8],[1.1,-0.5],[1.12,0.3],[1.14,-0.9],[1.16,0.6],[1.18,-0.2],[1.2,-0.7],[1.22,0.5],[1.24,-0.4],[1.26,0.1],
  [1.28,-0.8],[1.3,0.4],[1.32,-0.3],[1.34,0.2],[1.36,-0.6],[1.38,0.5],[1.4,-0.1],[1.42,-0.5],[1.44,0.3],[1.46,-0.4],
  [1.48,0.1],[1.5,-0.7],[1.52,0.4],[1.54,-0.2],[1.56,-0.5],[1.58,0.2],[1.6,-0.6],[1.62,0.0],[1.64,-0.3],[1.66,0.3],
  [1.68,-0.5],[1.7,-0.1],[1.7,0.2],
  [-0.35,0.1],[0.05,0.55],[0.25,-0.2],[0.45,0.1],[0.65,-0.9],[0.85,0.3],[1.05,-0.4],[1.25,-0.1],[1.45,-0.2],[0.15,-0.2],
  [0.55,-0.3],[0.75,-0.6],[0.95,0.1],[-0.15,0.5],[-0.55,0.3],
  [-0.96,0.1],[-0.86,-0.6],[-0.76,0.9],[-0.66,-0.9],[-0.56,0.6],[-0.46,1.2],[-0.36,-0.2],[-0.26,0.9],[-0.16,-0.7],[-0.06,1.2],
  [0.04,0.2],[0.14,-0.9],[0.24,1.3],[0.34,0.5],[0.44,-0.4],[0.54,1.0],[0.64,0.3],[0.74,-0.3],[0.84,0.9],[0.94,-0.6],
  [1.04,0.6],[1.14,0.0],[1.24,0.4],[1.34,-0.5],[1.44,0.1],[1.54,0.3],[1.64,-0.1],[1.5,-0.4],[1.3,-0.6],[1.1,0.7],
  [0.9,-0.8],[0.7,0.5],[0.5,-0.8],[0.3,0.8],[0.1,-0.3],[-0.1,-0.6],[-0.3,0.6],[-0.5,-0.3],[-0.7,0.6],[-0.9,-0.2],
  [0.6,-1.1],[0.2,-1.2],[-0.2,-1.0],[0.4,1.5],[0.0,1.6],[-0.4,1.4],[0.8,1.3],[1.0,1.0],[1.2,0.9],[0.72,-1.6],
  [0.36,-1.7],[-0.05,-1.9],[0.48,0.4],[0.88,0.0],[1.18,0.3],[1.38,-0.2],[1.58,-0.4],[1.62,0.4],[0.18,0.7],[-0.62,-0.2]
];

// ---- Layout of the six plot boxes (px) and their data ranges ----
const boxes = [
  { left: 63,  top: 37,  width: 303, height: 109, xr: [-2.19, 2.17], yr: [-3.22, 3.28] },
  { left: 450, top: 39,  width: 303, height: 108, xr: [-2.18, 2.19], yr: [-3.24, 3.20] },
  { left: 63,  top: 255, width: 303, height: 110, xr: [-4.40, 1.85], yr: [-3.95, 2.00] },
  { left: 451, top: 255, width: 303, height: 110, xr: [-4.34, 1.90], yr: [-3.80, 3.32] },
  { left: 64,  top: 468, width: 303, height: 110, xr: [-3.77, 1.96], yr: [-3.60, 2.06] },
  { left: 450, top: 468, width: 301, height: 109, xr: [-3.80, 1.96], yr: [-3.27, 3.47] }
];
const titleCenters = [[209, 16], [597, 16], [208, 231], [596, 231], [210, 445], [598, 445]];

const FONT = '"Liberation Sans", Arial, Helvetica, sans-serif';
const INK = '#000';

const grids = boxes.map(b => ({
  left: b.left, top: b.top, width: b.width, height: b.height,
  show: true, borderColor: INK, borderWidth: 1.6, backgroundColor: 'transparent'
}));

const xAxes = boxes.map((b, i) => ({
  type: 'value', gridIndex: i, min: b.xr[0], max: b.xr[1], position: 'bottom',
  name: xNames[i], nameLocation: 'middle', nameGap: 43,
  nameTextStyle: { fontFamily: FONT, fontSize: 18, color: INK },
  axisLine: { show: false, onZero: false },
  splitLine: { show: false },
  axisTick: { show: true, inside: false, length: 7, customValues: xTicks[i], lineStyle: { color: INK, width: 1.3 } },
  axisLabel: { show: true, customValues: xTicks[i], margin: 16, fontFamily: FONT, fontSize: 17, color: INK, hideOverlap: false }
}));

const yAxes = boxes.map((b, i) => ({
  type: 'value', gridIndex: i, min: b.yr[0], max: b.yr[1], position: 'left',
  name: yNames[i], nameLocation: 'middle', nameGap: 41, nameRotate: 90,
  nameTextStyle: { fontFamily: FONT, fontSize: 18, color: INK },
  axisLine: { show: false, onZero: false },
  splitLine: { show: false },
  axisTick: { show: true, inside: false, length: 7, customValues: yTicks[i], lineStyle: { color: INK, width: 1.3 } },
  axisLabel: { show: true, customValues: yTickLabels[i], rotate: 90, margin: 12, fontFamily: FONT, fontSize: 17, color: INK, hideOverlap: false }
}));

function dots(data, i) {
  return {
    type: 'scatter', xAxisIndex: i, yAxisIndex: i, data: data,
    symbol: 'rect', symbolSize: [2, 3], itemStyle: { color: INK }, silent: true
  };
}
function rings(data, i) {
  return {
    type: 'scatter', xAxisIndex: i, yAxisIndex: i, data: data,
    symbol: 'circle', symbolSize: 8,
    itemStyle: { color: 'rgba(0,0,0,0)', borderColor: INK, borderWidth: 1.5 }, silent: true
  };
}

const series = [
  dots(unrelatedPop1, 0), rings(unrelatedPop2, 0),
  dots(childrenPop1, 1), rings(childrenPop2, 1),
  dots(unrelatedAdmixPC1, 2),
  dots(unrelatedAdmixPC2, 3),
  dots(childrenAdmixPC1, 4),
  dots(childrenAdmixPC2, 5)
];

const titleGraphics = panelTitles.map((t, i) => ({
  type: 'text', x: titleCenters[i][0], y: titleCenters[i][1],
  style: { text: t, fontFamily: FONT, fontSize: 19.5, fontWeight: 'bold', fill: INK, textAlign: 'center', textVerticalAlign: 'middle' }
}));

const chart = echarts.init(document.getElementById('chart'), null, { renderer: 'canvas' });
chart.setOption({
  animation: false,
  backgroundColor: '#fff',
  grid: grids,
  xAxis: xAxes,
  yAxis: yAxes,
  series: series,
  graphic: titleGraphics
});
</script>
</body>
</html>
